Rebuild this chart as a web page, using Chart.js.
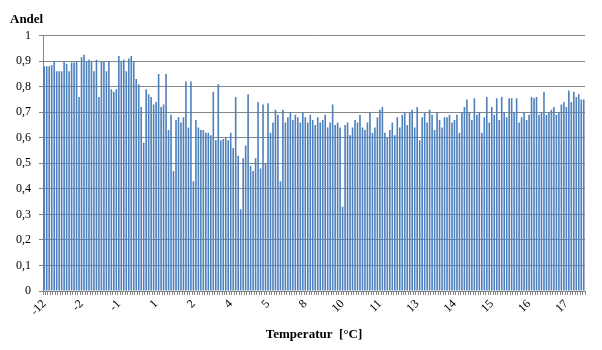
<!DOCTYPE html>
<html>
<head>
<meta charset="utf-8">
<script src="https://cdn.jsdelivr.net/npm/chart.js@4"></script>
<style>
  html, body { margin: 0; padding: 0; background: #ffffff; }
  canvas { display: block; }
</style>
</head>
<body>
<canvas id="c" width="602" height="350"></canvas>
<script>
// Tick labels shown every 15th category (as in the original Excel chart)
const tickLabels = ['-12','-2','-1','1','2','4','5','8','10','11','13','14','15','16','17'];
const labelInterval = 15;

// Andel per temperature class
const andel = [
  0.88,0.88,0.88,0.885,0.90,0.86,0.86,0.86,0.90,0.89,
  0.86,0.895,0.895,0.90,0.76,0.915,0.925,0.90,0.905,0.90,
  0.86,0.905,0.76,0.90,0.90,0.86,0.90,0.79,0.78,0.79,
  0.92,0.90,0.905,0.86,0.91,0.92,0.90,0.83,0.81,0.72,
  0.58,0.79,0.77,0.76,0.73,0.74,0.85,0.72,0.73,0.85,
  0.63,0.69,0.47,0.67,0.68,0.66,0.68,0.82,0.64,0.82,
  0.43,0.67,0.64,0.63,0.63,0.62,0.62,0.61,0.78,0.59,
  0.81,0.59,0.595,0.60,0.59,0.62,0.56,0.76,0.53,0.32,
  0.52,0.57,0.77,0.49,0.47,0.52,0.74,0.48,0.73,0.50,
  0.735,0.62,0.66,0.71,0.69,0.43,0.71,0.66,0.68,0.70,
  0.67,0.69,0.68,0.66,0.70,0.68,0.66,0.69,0.67,0.65,
  0.68,0.66,0.67,0.69,0.64,0.66,0.73,0.65,0.66,0.64,
  0.33,0.65,0.66,0.61,0.64,0.67,0.66,0.69,0.64,0.63,
  0.66,0.70,0.62,0.64,0.68,0.71,0.72,0.62,0.60,0.63,
  0.66,0.61,0.68,0.64,0.69,0.70,0.65,0.70,0.71,0.64,
  0.72,0.59,0.68,0.70,0.66,0.71,0.69,0.63,0.70,0.67,
  0.64,0.68,0.68,0.69,0.66,0.67,0.69,0.62,0.70,0.72,
  0.75,0.70,0.67,0.755,0.69,0.70,0.62,0.68,0.76,0.66,
  0.72,0.69,0.755,0.67,0.76,0.70,0.68,0.755,0.755,0.70,
  0.755,0.66,0.68,0.70,0.67,0.69,0.76,0.755,0.76,0.69,
  0.70,0.78,0.69,0.70,0.71,0.72,0.69,0.70,0.73,0.74,
  0.72,0.785,0.74,0.78,0.76,0.77,0.75,0.75
];

// Category labels: a label on every 15th class, others blank
const categories = andel.map((v, i) => (i % labelInterval === 0 ? (tickLabels[i / labelInterval] || '') : ''));

const serif = '"Liberation Serif", "Times New Roman", serif';
const gridColor = '#868686';

new Chart(document.getElementById('c'), {
  type: 'bar',
  data: {
    labels: categories,
    datasets: [{
      data: andel,
      backgroundColor: '#4F81BD',
      borderWidth: 0,
      barPercentage: 0.65,
      categoryPercentage: 1.0
    }]
  },
  options: {
    responsive: false,
    animation: false,
    devicePixelRatio: 1,
    layout: { padding: { left: 10, right: 17, top: 12, bottom: 4 } },
    plugins: {
      legend: { display: false },
      tooltip: { enabled: false },
      title: {
        display: true,
        text: 'Andel',
        align: 'start',
        color: '#000',
        font: { family: serif, size: 13, weight: 'bold' },
        padding: { top: 0, bottom: 8 }
      }
    },
    scales: {
      x: {
        offset: true,
        grid: {
          display: true,
          offset: true,
          drawOnChartArea: false,
          drawTicks: true,
          tickLength: 4,
          color: gridColor
        },
        border: { display: true, color: gridColor, width: 1 },
        ticks: {
          autoSkip: false,
          maxRotation: 45,
          minRotation: 45,
          padding: 2,
          color: '#000',
          font: { family: serif, size: 12 }
        },
        title: {
          display: true,
          text: 'Temperatur  [°C]',
          color: '#000',
          font: { family: serif, size: 13, weight: 'bold' },
          padding: { top: 2, bottom: 4 }
        },
        afterFit: (scale) => { scale.height = 55; }
      },
      y: {
        min: 0,
        max: 1,
        grid: {
          color: gridColor,
          drawTicks: true,
          tickLength: 4
        },
        border: { display: true, color: gridColor, width: 1 },
        ticks: {
          stepSize: 0.1,
          padding: 8,
          color: '#000',
          font: { family: serif, size: 12 },
          callback: (v) => {
            const r = Math.round(v * 10) / 10;
            if (r === 0) return '0';
            if (r === 1) return '1';
            return r.toFixed(1).replace('.', ',');
          }
        },
        afterFit: (scale) => { scale.width = 33; }
      }
    }
  }
});
</script>
</body>
</html>
